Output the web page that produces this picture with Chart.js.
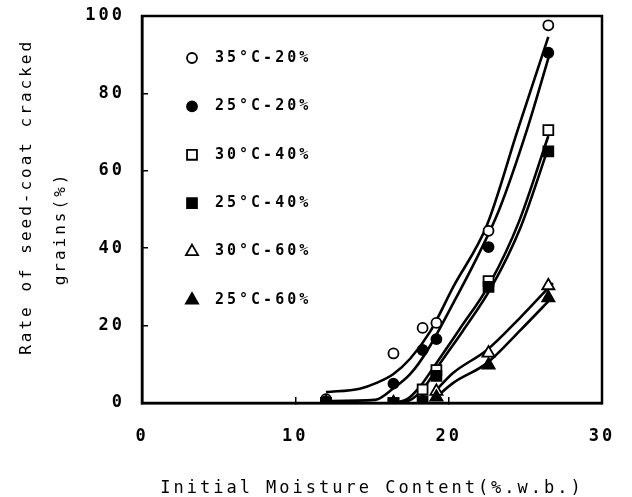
<!DOCTYPE html>
<html>
<head>
<meta charset="utf-8">
<script src="https://cdn.jsdelivr.net/npm/chart.js@4.4.1/dist/chart.umd.min.js"></script>
<style>
  html, body { margin: 0; padding: 0; background: #fff; }
</style>
</head>
<body>
<canvas id="plot" width="632" height="497"></canvas>
<script>
// initial moisture content of the samples (% w.b.)
var moisture = [12, 16.4, 18.3, 19.2, 22.6, 26.5];

// rate of seed-coat cracked grains (%), one list per drying condition
var crack35_20 = [1, 12.8, 19.4, 20.7, 44.5, 97.6];
var crack25_20 = [0.5, 5, 13.7, 16.5, 40.3, 90.5];
var crack30_40 = [0, 0, 3.5, 8.5, 31.5, 70.5];
var crack25_40 = [0, 0, 0.5, 7, 30, 65];
var crack30_60 = [0, 0, 0.5, 3, 12.9, 30.3];
var crack25_60 = [0, 0, 0, 1.5, 9.8, 27.2];

var seriesNames = ['35°C-20%', '25°C-20%', '30°C-40%', '25°C-40%', '30°C-60%', '25°C-60%'];

// fitted curves as drawn in the figure
var fit35_20x = [12, 14.2, 15.3, 16.4, 17.5, 18.8, 20.3, 22.5, 24.5, 26.5];
var fit35_20y = [2.8, 3.7, 5.2, 7.5, 11.5, 18.5, 30, 46, 70.5, 94.6];
var fit25_20x = [12, 15.2, 16.4, 17.5, 18.6, 20.3, 22.0, 23.3, 25.1, 26.6];
var fit25_20y = [0.5, 0.8, 3.8, 7.5, 13.5, 25.8, 38.8, 50, 70.5, 90.4];
var fit30_40x = [16.4, 17.3, 18.1, 19.2, 20.7, 22.7, 24.6, 26.5];
var fit30_40y = [0, 1, 4.1, 10.3, 19, 31, 47, 69];
var fit25_40x = [16.8, 17.6, 18.4, 19.4, 20.9, 22.8, 24.7, 26.5];
var fit25_40y = [0, 1, 4, 10, 18.5, 30, 45.5, 66];
var fit30_60x = [19.0, 20.3, 22.5, 24.7, 26.8];
var fit30_60y = [2.5, 7.8, 13.7, 22.2, 31];
var fit25_60x = [19.1, 20.3, 22.5, 24.7, 26.7];
var fit25_60y = [1.2, 5.2, 10.3, 18.9, 27.1];

var xTicks = [0, 10, 20, 30];
var yTicks = [0, 20, 40, 60, 80, 100];

var series = [crack35_20, crack25_20, crack30_40, crack25_40, crack30_60, crack25_60];
var fits = [[fit35_20x, fit35_20y], [fit25_20x, fit25_20y], [fit30_40x, fit30_40y],
            [fit25_40x, fit25_40y], [fit30_60x, fit30_60y], [fit25_60x, fit25_60y]];

// marker look per series
var markerShape = ['circle', 'circle', 'rect', 'rect', 'triangle', 'triangle'];
var markerSize = [5, 5, 7, 7, 7, 7];
var markerFilled = [false, true, false, true, false, true];

function toPoints(xs, ys) {
  return xs.map(function (x, i) { return {x: x, y: ys[i]}; });
}

var datasets = [];
fits.forEach(function (f, i) {
  datasets.push({
    type: 'line',
    label: 'fit ' + seriesNames[i],
    data: toPoints(f[0], f[1]),
    borderColor: '#000',
    borderWidth: 2.6,
    pointRadius: 0,
    cubicInterpolationMode: 'monotone',
    fill: false,
    order: 3
  });
});
series.forEach(function (s, i) {
  datasets.push({
    type: 'scatter',
    label: seriesNames[i],
    data: toPoints(moisture, s),
    pointStyle: markerShape[i],
    pointRadius: markerSize[i],
    pointBorderWidth: 1.8,
    borderColor: '#000',
    backgroundColor: markerFilled[i] ? '#000' : '#fff',
    order: markerFilled[i] ? 1 : 2   // filled marks sit on top
  });
});

var mono = '"DejaVu Sans Mono", "Liberation Mono", monospace';

// wide letter spacing like the typewriter font of the original
var spacing = {
  id: 'spacing',
  beforeInit: function (chart) { chart.ctx.letterSpacing = '3px'; },
  beforeUpdate: function (chart) { chart.ctx.letterSpacing = '3px'; },
  beforeDraw: function (chart) { chart.ctx.letterSpacing = '3px'; }
};

// closed frame round the plot
var frame = {
  id: 'frame',
  afterDraw: function (chart) {
    var a = chart.chartArea, ctx = chart.ctx;
    ctx.save();
    ctx.strokeStyle = '#000';
    ctx.lineWidth = 2.5;
    ctx.strokeRect(a.left, a.top, a.right - a.left, a.bottom - a.top);
    ctx.restore();
  }
};

// legend inside the plot, top left
var insideLegend = {
  id: 'insideLegend',
  afterDraw: function (chart) {
    var a = chart.chartArea, ctx = chart.ctx;
    ctx.save();
    ctx.letterSpacing = '3px';
    ctx.font = 'bold 15px ' + mono;
    ctx.textBaseline = 'middle';
    ctx.textAlign = 'left';
    seriesNames.forEach(function (name, i) {
      var y = a.top + 42 + i * 48.4;
      ctx.fillStyle = markerFilled[i] ? '#000' : '#fff';
      ctx.strokeStyle = '#000';
      ctx.lineWidth = 1.8;
      Chart.helpers.drawPoint(ctx, {pointStyle: markerShape[i], radius: markerSize[i], borderWidth: 1.8, rotation: 0}, a.left + 50, y);
      ctx.fillStyle = '#000';
      ctx.fillText(name, a.left + 73, y);
    });
    ctx.restore();
  }
};

new Chart(document.getElementById('plot'), {
  type: 'scatter',
  data: {datasets: datasets},
  options: {
    responsive: false,
    devicePixelRatio: 1,
    animation: false,
    layout: {padding: {top: 16, right: 30, left: 0, bottom: 0}},
    plugins: {legend: {display: false}, tooltip: {enabled: false}},
    scales: {
      x: {
        type: 'linear',
        min: 0, max: 30,
        afterBuildTicks: function (scale) { scale.ticks = xTicks.map(function (v) { return {value: v}; }); },
        afterFit: function (scale) {
          scale.height = 94;
          scale.paddingLeft = 0;
          scale.paddingRight = 0;
        },
        ticks: {color: '#000', padding: 29, font: {family: mono, size: 17, weight: 'bold'}},
        grid: {drawOnChartArea: false, drawTicks: true, tickLength: -6, color: '#000', lineWidth: 1.5},
        border: {display: true, color: '#000', width: 2.5},
        title: {
          display: true,
          text: 'Initial Moisture Content(%.w.b.)',
          color: '#000',
          font: {family: mono, size: 17},
          padding: {top: 0, bottom: -2}
        }
      },
      y: {
        type: 'linear',
        min: 0, max: 100,
        afterBuildTicks: function (scale) { scale.ticks = yTicks.map(function (v) { return {value: v}; }); },
        afterFit: function (scale) {
          scale.width = 142;
          scale.paddingTop = 0;
          scale.paddingBottom = 0;
        },
        ticks: {color: '#000', padding: 23, font: {family: mono, size: 17, weight: 'bold'}},
        grid: {drawOnChartArea: false, drawTicks: true, tickLength: -6, color: '#000', lineWidth: 1.5},
        border: {display: true, color: '#000', width: 2.5},
        title: {
          display: true,
          text: ['  Rate of seed-coat cracked', 'grains(%)   '],
          color: '#000',
          font: {family: mono, size: 16, lineHeight: 2.1},
          padding: {top: 10, bottom: 0}
        }
      }
    }
  },
  plugins: [spacing, frame, insideLegend]
});
</script>
</body>
</html>
